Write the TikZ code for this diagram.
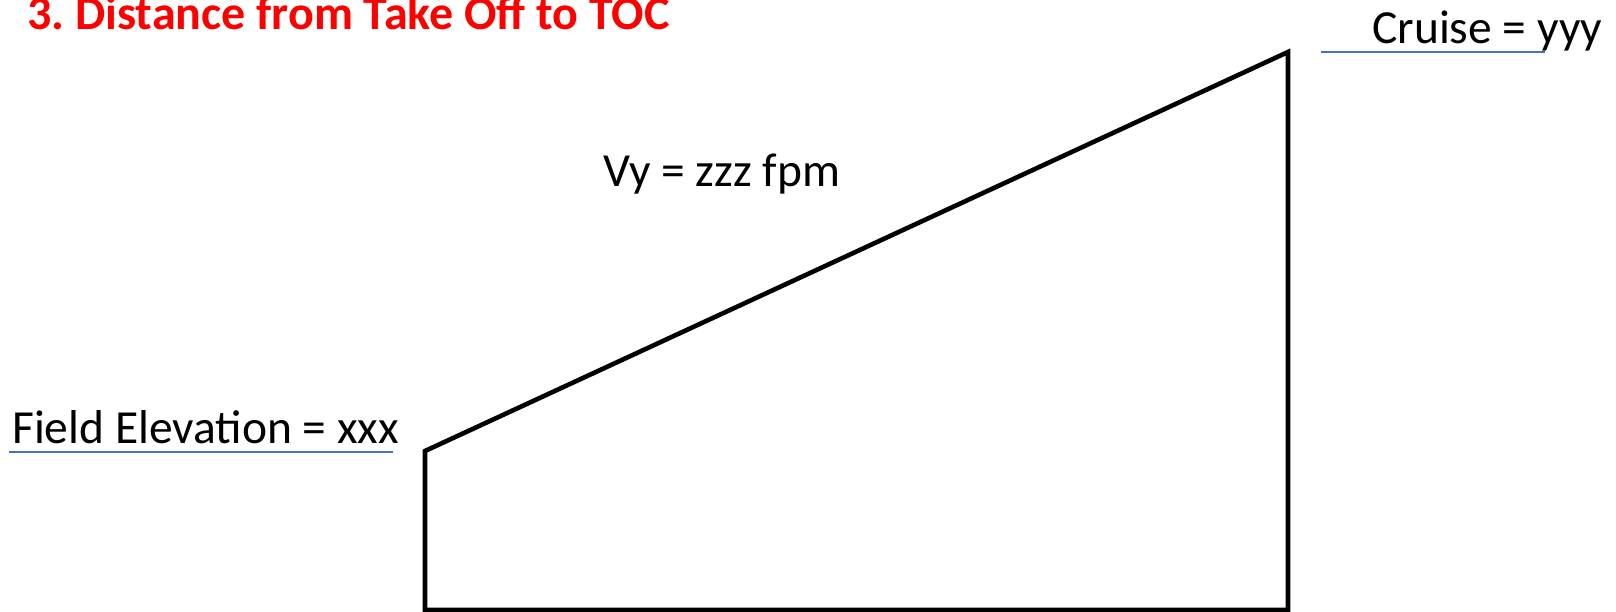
\documentclass[tikz,border=0pt]{standalone}
\usepackage{fontspec}
\setmainfont{Carlito}
\frenchspacing
\definecolor{titlered}{RGB}{255,0,0}
\definecolor{ulblue}{RGB}{68,114,196}
\begin{document}
\begin{tikzpicture}[x=1pt,y=-1pt,
  lbl/.style={anchor=base west,inner sep=0pt,font=\fontsize{47.5}{52}\selectfont},
  ttl/.style={anchor=base west,inner sep=0pt,text=titlered,font=\fontsize{48}{52}\selectfont\bfseries},
  uline/.style={draw=ulblue,line width=1.6pt},
  outline/.style={draw=black,line width=4.6pt,line join=miter}]
\useasboundingbox (0,0) rectangle (1616,612);
\node[ttl] (title) at (27,30) {3. Distance from Take Off to TOC};
\node[lbl] (cruise) at (1372,44) {Cruise = yyy};
\node[lbl] (vy) at (603,187) {Vy = zzz fpm};
\node[lbl] (field) at (12,443) {Field Elevation = xxx};
\draw[uline] (1321,52) -- (1545,52);
\draw[uline] (9,452) -- (393,452);
\draw[outline] (425,451) -- (1288,52) -- (1288,610) -- (425,610) -- cycle;
\end{tikzpicture}
\end{document}
